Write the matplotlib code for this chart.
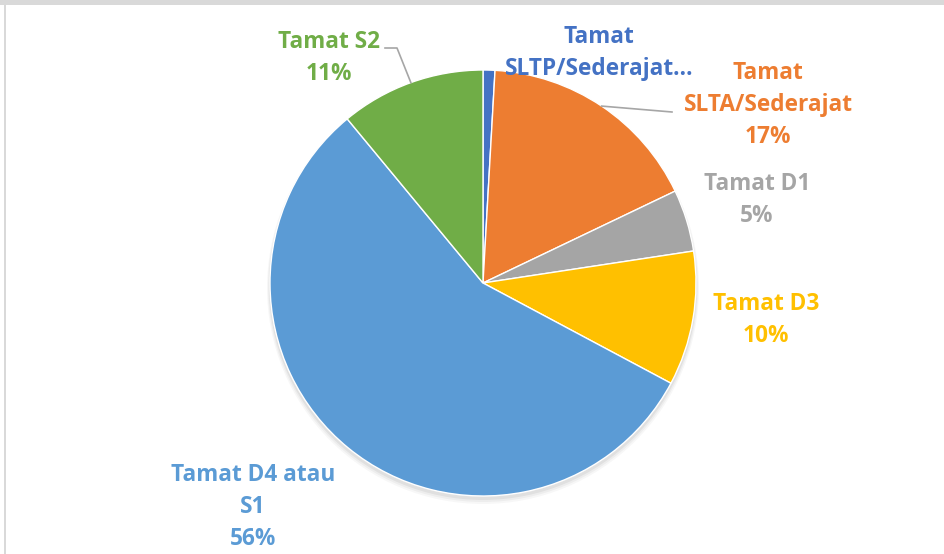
import numpy as np
import matplotlib.pyplot as plt
from matplotlib.patches import Rectangle

# education level shares (percent), clockwise from 12 o'clock
categories = ["Tamat\nSLTP/Sederajat…", "Tamat\nSLTA/Sederajat", "Tamat D1",
              "Tamat D3", "Tamat D4 atau\nS1", "Tamat S2"]
shares = [0.9, 17.0, 4.7, 10.2, 56.2, 11.0]
show_pct = [False, True, True, True, True, True]
colors = ["#4472C4", "#ED7D31", "#A5A5A5", "#FFC000", "#5B9BD5", "#70AD47"]

W, H = 945, 554
CX, CY, R = 483, 283, 213

# label centres in pixels (from top-left)
label_pos = [(599, 53), (768, 105), (757, 200), (766, 320), (253, 507), (329, 58)]

plt.rcParams['font.family'] = ['Open Sans', 'DejaVu Sans']

fig = plt.figure(figsize=(W / 100, H / 100), dpi=100)
ax = fig.add_axes([0, 0, 1, 1])

# frame bits
ax.add_patch(Rectangle((0, H - 5), W, 5, color="#D9D9D9", lw=0))
ax.add_patch(Rectangle((4, 0), 2, H - 5, color="#D9D9D9", lw=0))

# soft shadow
for i, a in enumerate([0.05, 0.04, 0.03]):
    ax.add_patch(plt.Circle((CX, H - CY - 3 - i), R + 1 + i, color="black", alpha=a, lw=0))

wedges, _ = ax.pie(shares, colors=colors, startangle=90, counterclock=False,
                   center=(CX, H - CY), radius=R,
                   wedgeprops=dict(edgecolor="white", linewidth=1))

ax.set_xlim(0, W)
ax.set_ylim(0, H)
ax.set_aspect('equal')
ax.axis('off')

for i, (w, cat) in enumerate(zip(wedges, categories)):
    txt = cat
    if show_pct[i]:
        txt += "\n%d%%" % round(shares[i])
    x, y = label_pos[i]
    ax.text(x, H - y, txt, ha="center", va="center", color=colors[i],
            fontsize=16.3, fontweight="bold", linespacing=1.45)

# leader lines for S2 and SLTA
def edge_point(w):
    mid = np.deg2rad((w.theta1 + w.theta2) / 2)
    return CX + R * np.cos(mid), (H - CY) + R * np.sin(mid)

ex, ey = edge_point(wedges[5])
ax.plot([ex, 397, 385], [ey, H - 48, H - 48], color="#A6A6A6", lw=1.2)
ex, ey = edge_point(wedges[1])
ax.plot([ex, 672], [ey, H - 112], color="#A6A6A6", lw=1.2)

fig.savefig("out.png", dpi=100)
